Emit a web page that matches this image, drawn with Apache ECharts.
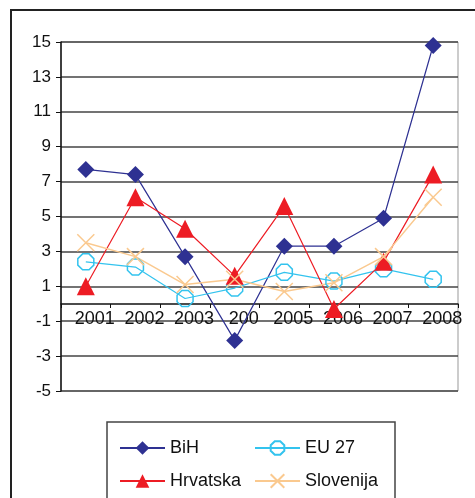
<!DOCTYPE html>
<html>
<head>
<meta charset="utf-8">
<script src="https://cdn.jsdelivr.net/npm/echarts@6/dist/echarts.min.js"></script>
<style>
  html, body { margin: 0; padding: 0; background: #fff; }
  #chart { width: 475px; height: 498px; }
</style>
</head>
<body>
<div id="chart"></div>
<script>
// godine (oznaka 2004 je u originalu odrezana na "200")
var years = ['2001', '2002', '2003', '200', '2005', '2006', '2007', '2008'];
var bih      = [7.7, 7.4, 2.7, -2.1, 3.3, 3.3, 4.9, 14.8];
var eu27     = [2.4, 2.1, 0.3, 0.9, 1.8, 1.3, 2.0, 1.4];
var hrvatska = [1.0, 6.1, 4.3, 1.6, 5.6, -0.3, 2.4, 7.4];
var slovenija = [3.5, 2.7, 1.1, 1.4, 0.7, 1.2, 2.7, 6.1];

var FONT = '"Liberation Sans", Arial, sans-serif';
var octagon = 'path://M3,0L7,0L10,3L10,7L7,10L3,10L0,7L0,3Z';
var cross = 'path://M0,0L10,10M10,0L0,10';

var chart = echarts.init(document.getElementById('chart'));
chart.setOption({
    animation: false,
    backgroundColor: '#fff',
    graphic: [
        {   // okvir slike
            type: 'rect',
            shape: { x: 11, y: 10, width: 480, height: 500 },
            style: { fill: 'none', stroke: '#222', lineWidth: 2 },
            z: -1
        },
        {   // okvir legende
            type: 'rect',
            shape: { x: 107, y: 422, width: 288, height: 100 },
            style: { fill: 'none', stroke: '#444', lineWidth: 1.5 },
            z: -1
        }
    ],
    grid: {
        left: 61, right: 17, top: 42, bottom: 107,
        show: true,
        borderColor: '#999',
        borderWidth: 1
    },
    legend: [
        {
            orient: 'vertical',
            left: 114, top: 434,
            itemWidth: 45, itemHeight: 17, itemGap: 15,
            textStyle: { fontFamily: FONT, fontSize: 18, color: '#111', lineHeight: 18 },
            data: ['BiH', 'Hrvatska']
        },
        {
            orient: 'vertical',
            left: 249, top: 434,
            itemWidth: 45, itemHeight: 17, itemGap: 15,
            textStyle: { fontFamily: FONT, fontSize: 18, color: '#111', lineHeight: 18 },
            data: ['EU 27', 'Slovenija']
        }
    ],
    xAxis: {
        type: 'category',
        data: years,
        offset: -87,
        axisLine: { onZero: false, lineStyle: { color: '#111', width: 1.5 } },
        axisTick: { show: true, inside: false, length: 4, lineStyle: { color: '#111' } },
        axisLabel: {
            interval: 0,
            fontFamily: FONT, fontSize: 18, color: '#111',
            margin: 6, padding: [0, 0, 0, 18]
        },
        splitLine: { show: false }
    },
    yAxis: {
        type: 'value',
        min: -5, max: 15, interval: 2,
        axisLine: { show: true, lineStyle: { color: '#111', width: 1.5 } },
        axisTick: { show: true, length: 5, lineStyle: { color: '#111' } },
        axisLabel: { fontFamily: FONT, fontSize: 17, color: '#111', margin: 10 },
        splitLine: { show: true, lineStyle: { color: '#444', width: 1.5 } }
    },
    series: [
        {
            name: 'BiH', type: 'line', data: bih,
            symbol: 'diamond', symbolSize: 17,
            lineStyle: { color: '#2E3192', width: 1.2 },
            itemStyle: { color: '#2E3192' }
        },
        {
            name: 'EU 27', type: 'line', data: eu27,
            symbol: octagon, symbolSize: 16,
            lineStyle: { color: '#33C3EE', width: 1.2 },
            itemStyle: { color: 'rgba(0,0,0,0)', borderColor: '#33C3EE', borderWidth: 1.5 }
        },
        {
            name: 'Hrvatska', type: 'line', data: hrvatska,
            symbol: 'triangle', symbolSize: 18,
            lineStyle: { color: '#ED1C24', width: 1.2 },
            itemStyle: { color: '#ED1C24' }
        },
        {
            name: 'Slovenija', type: 'line', data: slovenija,
            symbol: cross, symbolSize: 17,
            lineStyle: { color: '#FAC98F', width: 1.5 },
            itemStyle: { color: 'rgba(0,0,0,0)', borderColor: '#FAC98F', borderWidth: 1.5 }
        }
    ]
});
</script>
</body>
</html>
